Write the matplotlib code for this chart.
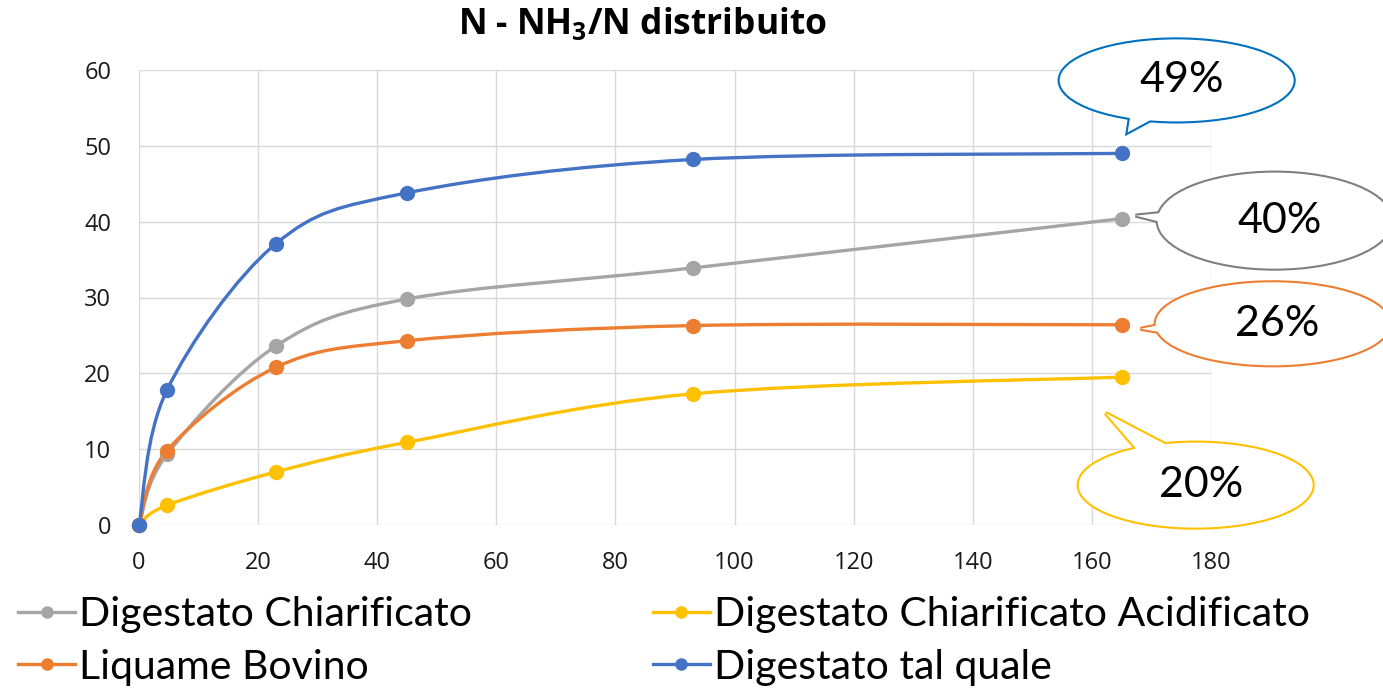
import matplotlib
matplotlib.use('Agg')
import matplotlib.pyplot as plt
import numpy as np
from matplotlib.path import Path
from matplotlib.patches import PathPatch, Ellipse, Polygon
from matplotlib.lines import Line2D
from matplotlib.transforms import Affine2D, ScaledTranslation

# dati
giorni = [0, 4.7, 23, 45, 93, 165]
chiarificato = [0, 9.3, 23.6, 29.8, 33.9, 40.4]
acidificato = [0, 2.6, 7.0, 10.9, 17.3, 19.5]
liquame = [0, 9.8, 20.8, 24.3, 26.3, 26.4]
tal_quale = [0, 17.8, 37.1, 43.8, 48.2, 49.0]

nomi = ['Digestato Chiarificato', 'Digestato Chiarificato Acidificato',
        'Liquame Bovino', 'Digestato tal quale']
serie = [chiarificato, acidificato, liquame, tal_quale]
colori = ['#A5A5A5', '#FFC000', '#ED7D31', '#4472C4']
etichette = ['40%', '20%', '26%', '49%']
bordi = ['#7F7F7F', '#FFC000', '#ED7D31', '#0070C0']

x_ticks = list(range(0, 181, 20))
y_ticks = list(range(0, 61, 10))

# fumetti: centro ellisse, larghezza, altezza, punta, angoli di attacco (pixel rispetto all'ultimo punto)
fumetti = [
    dict(centro=(153, -2), w=234, h=96, punta=(14, 3), angoli=(165, 190)),
    dict(centro=(74, -108), w=234, h=85, punta=(-16, -36), angoli=(100, 124)),
    dict(centro=(151, 1), w=234, h=83, punta=(19, -4), angoli=(175, 203)),
    dict(centro=(55, 73), w=234, h=82, punta=(6, 21), angoli=(241, 262)),
]

plt.rcParams['mathtext.fontset'] = 'custom'
plt.rcParams['mathtext.bf'] = 'Open Sans:bold'
plt.rcParams['mathtext.rm'] = 'Open Sans'


def smooth_path(x, y):
    # curva levigata tipo Excel (Catmull-Rom -> Bezier)
    p = np.column_stack([x, y]).astype(float)
    n = len(p)
    verts = [p[0]]
    codes = [Path.MOVETO]
    for i in range(n - 1):
        p0 = p[max(i - 1, 0)]
        p3 = p[min(i + 2, n - 1)]
        c1 = p[i] + (p[i + 1] - p0) / 6
        c2 = p[i + 1] - (p3 - p[i]) / 6
        verts += [c1, c2, p[i + 1]]
        codes += [Path.CURVE4] * 3
    return Path(verts, codes)


def fumetto(ax, x0, y0, testo, colore, centro, w, h, punta, angoli):
    tr = Affine2D() + ScaledTranslation(x0, y0, ax.transData)
    cx, cy = centro
    base = []
    for a in angoli:
        t = np.radians(a)
        base.append((cx + 0.8 * w / 2 * np.cos(t), cy + 0.8 * h / 2 * np.sin(t)))
    tri = [punta, base[0], base[1]]
    for fc, ec, lw, z in [('white', colore, 3.0, 5), ('white', 'none', 0, 6)]:
        ax.add_patch(Ellipse((cx, cy), w, h, transform=tr, fc=fc, ec=ec, lw=lw,
                             zorder=z, clip_on=False))
        ax.add_patch(Polygon(tri, closed=True, transform=tr, fc=fc, ec=ec, lw=lw,
                             zorder=z, clip_on=False, joinstyle='miter'))
    ax.text(cx + 5, cy, testo, transform=tr, ha='center', va='center',
            fontsize=31, family='Lato', color='black', zorder=7, clip_on=False)


fig = plt.figure(figsize=(13.83, 6.92), dpi=100)
ax = fig.add_axes([139 / 1383, 1 - 525 / 692, 1072 / 1383, 455 / 692])

ax.set_xlim(0, 180)
ax.set_ylim(0, 60)
ax.set_xticks(x_ticks)
ax.set_yticks(y_ticks)
ax.grid(True, color='#D9D9D9', lw=1)
ax.set_axisbelow(True)
for s in ax.spines.values():
    s.set_visible(False)
ax.tick_params(length=0, labelsize=17, labelcolor='#1a1a1a')
ax.tick_params(axis='y', pad=20)
ax.tick_params(axis='x', pad=19)
for lab in ax.get_xticklabels() + ax.get_yticklabels():
    lab.set_family('Open Sans')

handles = []
for nome, valori, col in zip(nomi, serie, colori):
    ax.add_patch(PathPatch(smooth_path(giorni, valori), fill=False, ec=col, lw=2.4,
                           capstyle='round', zorder=3, clip_on=False))
    ax.plot(giorni, valori, ls='none', marker='o', ms=10, color=col, zorder=4,
            clip_on=False)
    handles.append(Line2D([], [], color=col, lw=2.4, marker='o', ms=8, label=nome))

for valori, testo, ec, f in zip(serie, etichette, bordi, fumetti):
    fumetto(ax, giorni[-1], valori[-1], testo, ec, **f)

fig.text(642 / 1383, 1 - 25 / 692, r'N - NH$_\mathbf{3}$/N distribuito',
         ha='center', va='center', fontsize=25.5, fontweight='bold', family='Open Sans')

ordine = [0, 2, 1, 3]
fig.legend([handles[i] for i in ordine], [nomi[i] for i in ordine],
           loc='upper left', bbox_to_anchor=(18 / 1383, 1 - 596 / 692), ncol=2,
           frameon=False, prop={'family': 'Lato', 'size': 29.5},
           handlelength=1.4, handletextpad=0.1, columnspacing=4.4, labelspacing=0.38,
           borderaxespad=0, borderpad=0)

fig.savefig('out.png', dpi=100)
